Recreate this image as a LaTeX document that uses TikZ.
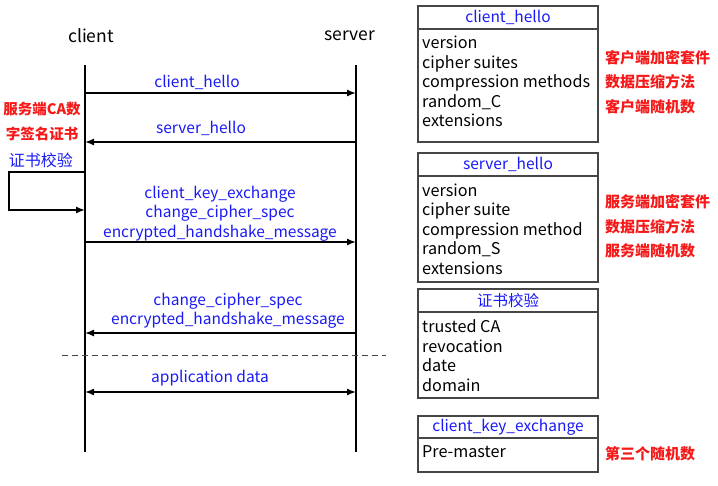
\documentclass[tikz,border=0pt]{standalone}
\usepackage{fontspec}
\setmainfont{Noto Sans CJK SC}
\usetikzlibrary{arrows.meta,positioning}
\definecolor{msgblue}{RGB}{25,25,245}
\definecolor{notered}{RGB}{245,25,25}
\definecolor{boxgray}{RGB}{70,70,70}
\newcommand{\fsz}[1]{\fontsize{#1}{19.5}\selectfont}
\tikzset{
    lifeline/.style={line width=1.3pt},
    msg/.style={line width=1.4pt,-{Latex[length=9pt,width=7pt]}},
    msglabel/.style={text=msgblue,font=\fsz{15.5},align=center,inner sep=0pt},
    note/.style={text=notered,font=\fsz{15}\bfseries,anchor=west,inner sep=0pt},
    hdr/.style={draw=boxgray,line width=1.2pt,minimum width=180pt,inner sep=0pt,outer sep=0pt,text=msgblue,font=\fsz{15.5}},
    body/.style={draw=boxgray,line width=1.2pt,minimum width=180pt,inner sep=0pt,outer sep=0pt},
    fields/.style={align=left,anchor=north west,inner sep=0pt,font=\fsz{16.2}}
}
\begin{document}
\begin{tikzpicture}[x=1pt,y=-1pt]
    \useasboundingbox (0,0) rectangle (718,485);

    % lifelines
    \node[font=\fsz{17.5}] (client) at (91,36) {client};
    \node[font=\fsz{17.5}] (server) at (350,36) {server};
    \coordinate (ctop) at (85,65);
    \coordinate (cbot) at (85,452);
    \coordinate (stop) at (356,65);
    \coordinate (sbot) at (356,452);
    \draw[lifeline] (ctop) -- (cbot);
    \draw[lifeline] (stop) -- (sbot);

    \foreach \n/\y in {ch/93,sh/142,ke/242,cc/333,ad/392}{
        \coordinate (\n c) at (85,\y);
        \coordinate (\n s) at (356,\y);
    }

    % messages
    \draw[msg] (chc) -- (chs);
    \node[msglabel] (chlabel) at (197,82) {client\_hello};
    \draw[msg] (shs) -- (shc);
    \node[msglabel] (shlabel) at (201,128) {server\_hello};
    \node[note,anchor=center,align=center,font=\fontsize{14.5}{25}\selectfont\bfseries] (canote) at (42,121) {服务端CA数\\字签名证书};
    \node[msglabel,font=\fsz{16}] (verify) at (41,160) {证书校验};
    \coordinate (loopa) at (85,172);
    \coordinate (loopb) at (85,210);
    \draw[msg] (loopa) -- ++(-76,0) |- (loopb);
    \draw[msg] (kec) -- (kes);
    \node[msglabel] (kelabel) at (220,213.5) {client\_key\_exchange\\change\_cipher\_spec\\encrypted\_handshake\_message};
    \draw[msg] (ccs) -- (ccc);
    \node[msglabel] (cclabel) at (228,311) {change\_cipher\_spec\\encrypted\_handshake\_message};
    \coordinate (dla) at (62,355);
    \coordinate (dlb) at (386,355);
    \draw[line width=0.9pt,dash pattern=on 6pt off 4pt,boxgray] (dla) -- (dlb);
    \draw[msg,{Latex[length=9pt,width=7pt]}-{Latex[length=9pt,width=7pt]}] (adc) -- (ads);
    \node[msglabel] (adlabel) at (210,378) {application data};

    % client_hello box
    \node[hdr,minimum height=23pt] (chhead) at (508,17.5) {client\_hello};
    \node[body,minimum height=113pt,below=0pt of chhead] (chbody) {};
    \node[fields] (chfields) at ([xshift=4pt,yshift=-7pt]chbody.north west)
        {version\\cipher suites\\compression methods\\random\_C\\extensions};
    \node[note] (chn1) at (605,58) {客户端加密套件};
    \node[note] (chn2) at (605,82) {数据压缩方法};
    \node[note] (chn3) at (605,107) {客户端随机数};

    % server_hello box
    \node[hdr,minimum height=23pt] (shhead) at (508,164.5) {server\_hello};
    \node[body,minimum height=106pt,below=0pt of shhead] (shbody) {};
    \node[fields] (shfields) at ([xshift=4pt,yshift=-7.5pt]shbody.north west)
        {version\\cipher suite\\compression method\\random\_S\\extensions};
    \node[note] (shn1) at (605,202) {服务端加密套件};
    \node[note] (shn2) at (605,227) {数据压缩方法};
    \node[note] (shn3) at (605,251) {服务端随机数};

    % certificate check box
    \node[hdr,minimum height=23pt] (cahead) at (508,300.5) {证书校验};
    \node[body,minimum height=86pt,below=0pt of cahead] (cabody) {};
    \node[fields] (cafields) at ([xshift=4pt,yshift=-7.5pt]cabody.north west)
        {trusted CA\\revocation\\date\\domain};

    % client_key_exchange box
    \node[hdr,minimum height=22pt] (kehead) at (508,427) {client\_key\_exchange};
    \node[body,minimum height=34pt,below=0pt of kehead] (kebody) {};
    \node[fields] (kefields) at ([xshift=4pt,yshift=-7.5pt]kebody.north west) {Pre-master};
    \node[note] (ken1) at (605,454) {第三个随机数};
\end{tikzpicture}
\end{document}
